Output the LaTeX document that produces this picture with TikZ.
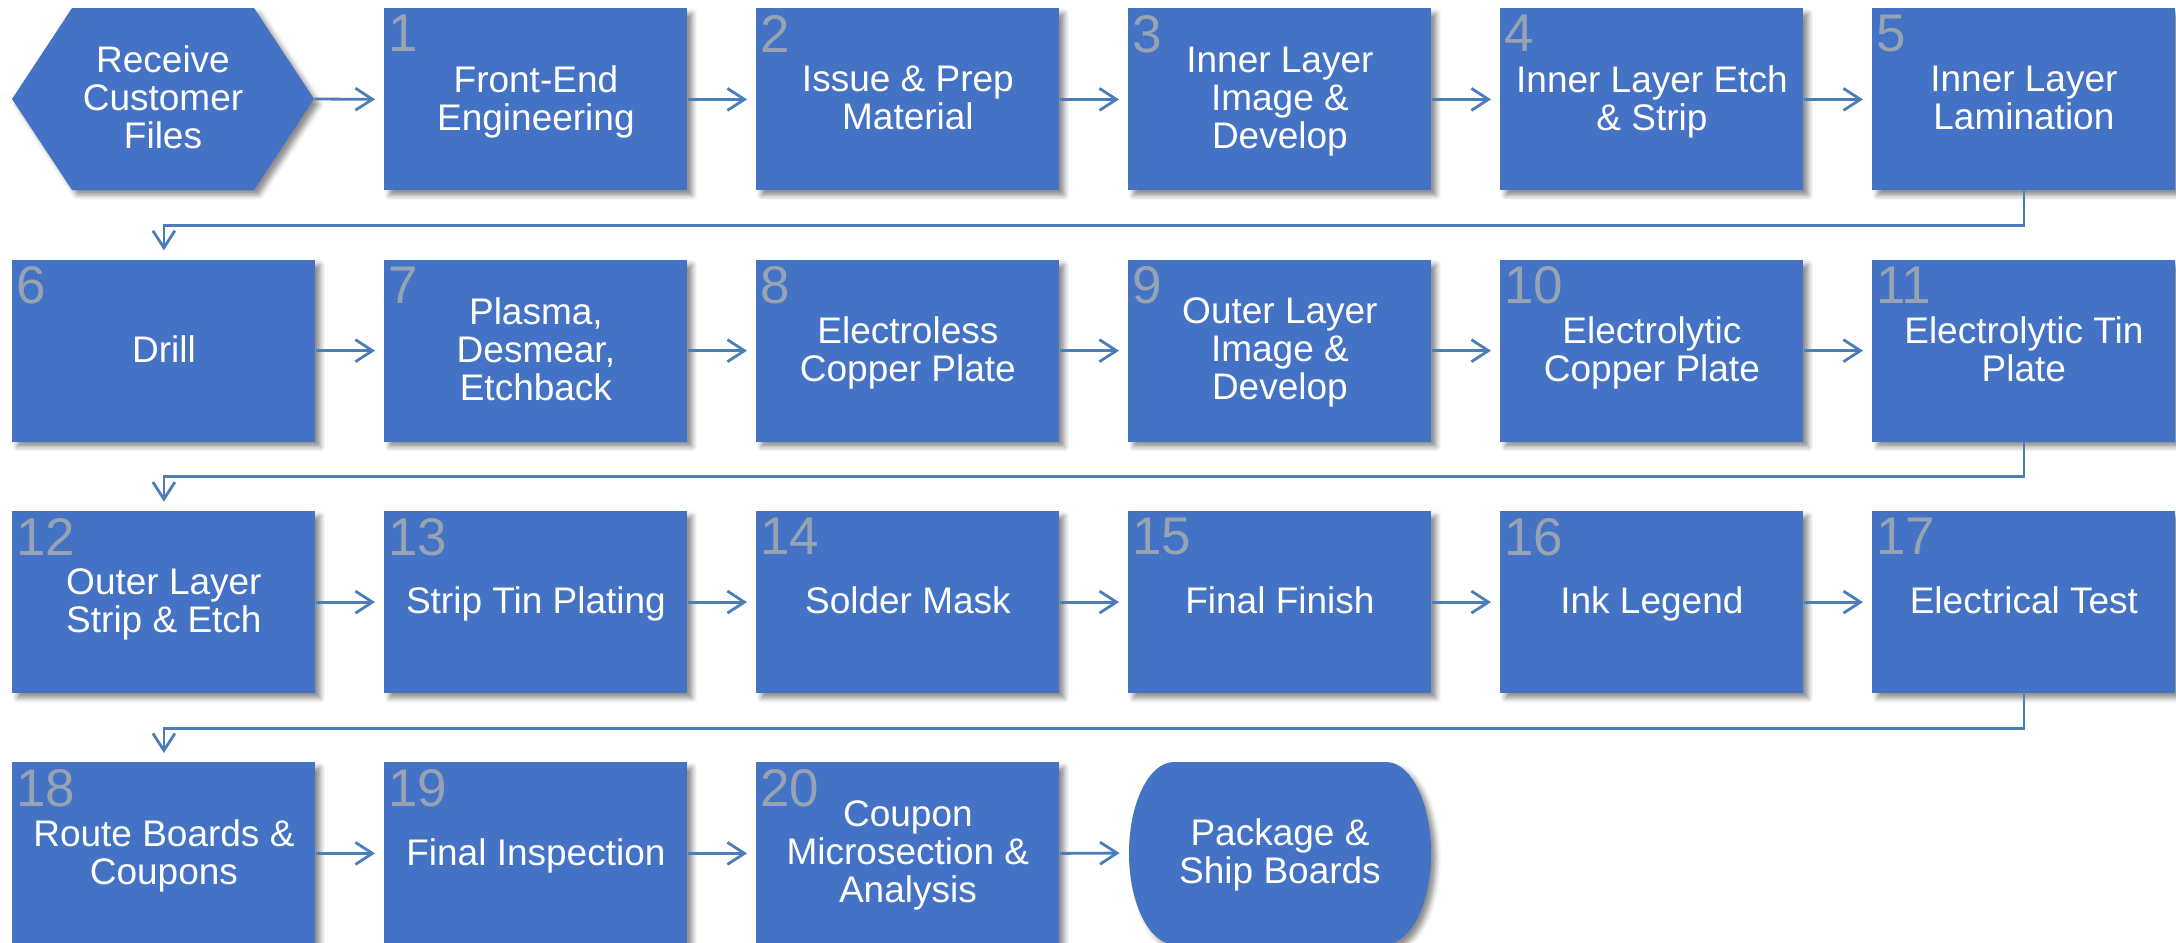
\documentclass[tikz,border=0pt]{standalone}
\usepackage{fontspec}
\setmainfont{Liberation Sans}
\usetikzlibrary{arrows.meta,shadows.blur,calc}
\definecolor{boxblue}{HTML}{4472C4}
\definecolor{linkblue}{HTML}{4A7EBB}
\definecolor{numgray}{HTML}{97A3B3}
\tikzset{
  softshadow/.style={blur shadow={shadow xshift=2.5pt, shadow yshift=-2.5pt,
      shadow blur radius=2.5pt, shadow opacity=45}},
  boxtext/.style={align=center, text=white, font=\fontsize{18.5}{19}\selectfont,
      text depth=1.7pt},
  stepbox/.style={fill=boxblue, softshadow, minimum width=151.5pt, minimum height=91pt,
      inner sep=0pt, anchor=north west, boxtext},
  textonly/.style={minimum width=151pt, minimum height=91pt, inner sep=0pt, boxtext},
  stepnum/.style={anchor=north west, inner sep=0pt, text=numgray,
      font=\fontsize{26.5}{27}\selectfont},
  flow/.style={draw=linkblue, line width=1.4pt,
      -{Straight Barb[length=8.5pt,width=11pt]}, shorten >=4.5pt},
}
\begin{document}
\begin{tikzpicture}[x=0.5pt,y=-0.5pt]
\useasboundingbox (0,0) rectangle (2176,943);

% start: hexagon
\fill[boxblue, softshadow] (12,99) -- (72,8) -- (254,8) -- (314,99) -- (254,190) -- (72,190) -- cycle;
\node[textonly] (start) at (163,99) {Receive\\Customer\\Files};

% numbered process steps
\foreach \n/\x/\y/\t in {
  1/384/8/{Front-End\\Engineering},
  2/756/8/{Issue \& Prep\\Material},
  3/1128/8/{Inner Layer\\Image \&\\Develop},
  4/1500/8/{Inner Layer Etch\\\& Strip},
  5/1872/8/{Inner Layer\\Lamination},
  6/12/259.3/{Drill},
  7/384/259.3/{Plasma,\\Desmear,\\Etchback},
  8/756/259.3/{Electroless\\Copper Plate},
  9/1128/259.3/{Outer Layer\\Image \&\\Develop},
  10/1500/259.3/{Electrolytic\\Copper Plate},
  11/1872/259.3/{Electrolytic Tin\\Plate},
  12/12/510.7/{Outer Layer\\Strip \& Etch},
  13/384/510.7/{Strip Tin Plating},
  14/756/510.7/{Solder Mask},
  15/1128/510.7/{Final Finish},
  16/1500/510.7/{Ink Legend},
  17/1872/510.7/{Electrical Test},
  18/12/762/{Route Boards \&\\Coupons},
  19/384/762/{Final Inspection},
  20/756/762/{Coupon\\Microsection \&\\Analysis}}
{
  \node[stepbox] (b\n) at (\x,\y) {\t};
  \node[stepnum] (n\n) at ([xshift=2pt,yshift=-3.5pt]b\n.north west) {\n};
}

% end: terminal with elliptic ends
\fill[boxblue, softshadow] (1174,762) -- (1386,762)
  .. controls (1410.85,762) and (1431,802.74) .. (1431,853)
  .. controls (1431,903.26) and (1410.85,944) .. (1386,944)
  -- (1174,944)
  .. controls (1149.15,944) and (1129,903.26) .. (1129,853)
  .. controls (1129,802.74) and (1149.15,762) .. cycle;
\node[textonly] (ship) at (1280,853) {Package \&\\Ship Boards};

% connectors along each row
\draw[flow] (start.east) -- (b1.west);
\foreach \a/\b in {1/2,2/3,3/4,4/5,6/7,7/8,8/9,9/10,10/11,12/13,13/14,14/15,15/16,16/17,18/19,19/20}
  \draw[flow] (b\a.east) -- (b\b.west);
\draw[flow] (b20.east) -- (ship.west);

% connectors wrapping to the next row
\draw[flow] (b5.south) -- ++(0,34.7) -| (b6.north);
\draw[flow] (b11.south) -- ++(0,34.7) -| (b12.north);
\draw[flow] (b17.south) -- ++(0,34.7) -| (b18.north);
\end{tikzpicture}
\end{document}
